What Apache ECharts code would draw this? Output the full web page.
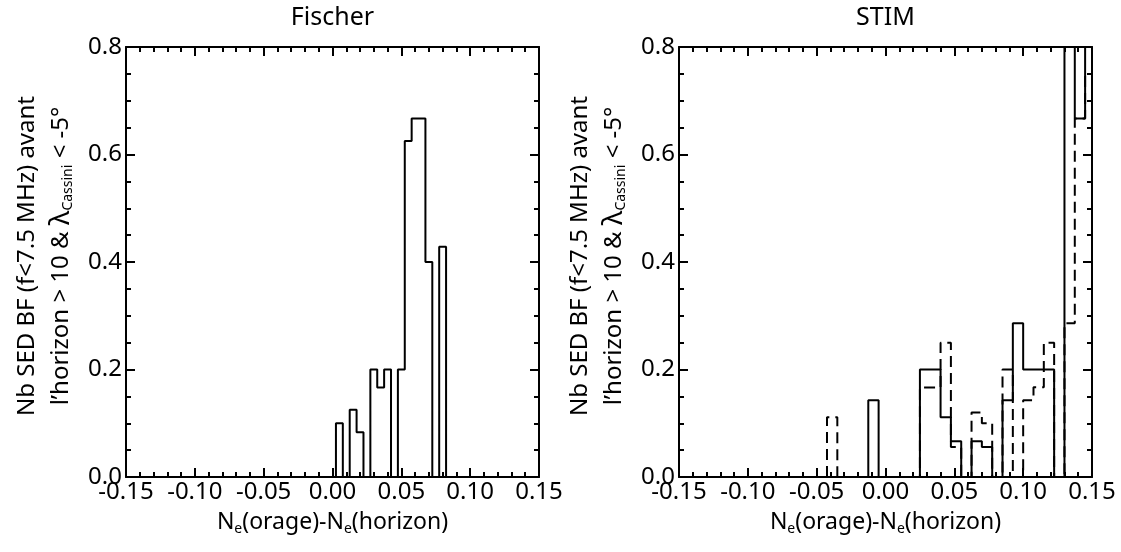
<!DOCTYPE html>
<html>
<head>
<meta charset="utf-8">
<script src="https://cdn.jsdelivr.net/npm/echarts@6/dist/echarts.min.js"></script>
<style>html,body{margin:0;padding:0;background:#fff}#c{width:1121px;height:552px}</style>
</head>
<body>
<div id="c"></div>
<script>
// ---- data ----
const xTickValues = [-0.15, -0.10, -0.05, 0.00, 0.05, 0.10, 0.15];
const yTickValues = [0.0, 0.2, 0.4, 0.6, 0.8];
const panelTitles = ['Fischer', 'STIM'];

// Fischer histogram (bin centres, width 0.005)
const fischerBinWidth = 0.005;
const fischerCenters = [0.005, 0.010, 0.015, 0.020, 0.025, 0.030, 0.035, 0.040, 0.045, 0.050, 0.055, 0.060, 0.065, 0.070, 0.075, 0.080];
const fischerValues  = [0.100, 0.000, 0.125, 0.0833, 0.000, 0.200, 0.1667, 0.200, 0.000, 0.200, 0.625, 0.667, 0.667, 0.400, 0.000, 0.4286];

// STIM histograms (bin left edges, width 0.0075)
const stimBinWidth = 0.0075;
const stimBinLeft = [-0.0425, -0.035, -0.0275, -0.02, -0.0125, -0.005, 0.0025, 0.01, 0.0175, 0.025, 0.0325, 0.04, 0.0475,
                     0.055, 0.0625, 0.07, 0.0775, 0.085, 0.0925, 0.1, 0.1075, 0.115, 0.1225, 0.13, 0.1375, 0.145];
const stimSolid  = [0, 0, 0, 0, 0.143, 0, 0, 0, 0, 0.2, 0.2, 0.111, 0.0667,
                    0, 0.0667, 0.056, 0, 0.143, 0.286, 0.2, 0.2, 0.2, 0, 1.0, 0.667, 1.0];
const stimDashed = [0.111, 0, 0, 0, 0, 0, 0, 0, 0, 0.1667, 0.1667, 0.25, 0.0556,
                    0, 0.12, 0.1, 0, 0.2, 0, 0.143, 0.167, 0.25, 0, 0.286, 0.667, 0.75];

// ---- helpers ----
function stepFromLefts(lefts, vals, w) {
  const d = [[lefts[0], 0]];
  for (let i = 0; i < lefts.length; i++) d.push([lefts[i], vals[i]]);
  d.push([lefts[lefts.length - 1] + w, 0]);
  return d;
}
function stepFromCenters(centers, vals, w) {
  return stepFromLefts(centers.map(c => c - w / 2), vals, w);
}

const FONT = 'Noto Sans';
const grids = [
  {left: 126, top: 47, width: 413, height: 430},
  {left: 679, top: 47, width: 413, height: 430}
];
const xLab = v => { if (Math.abs(v) < 1e-9) return '0.00'; return v.toFixed(2); };
const yLab = v => v.toFixed(1);

const xAxes = [], yAxes = [];
grids.forEach((g, i) => {
  const baseX = {
    gridIndex: i, type: 'value', min: xTickValues[0], max: xTickValues[xTickValues.length - 1], interval: 0.05,
    axisLine: {onZero: false, lineStyle: {color: '#000', width: 2}},
    axisTick: {inside: true, length: 9, lineStyle: {color: '#000', width: 2}},
    minorTick: {show: true, splitNumber: 5, length: 5, lineStyle: {color: '#000', width: 2}},
    splitLine: {show: false}
  };
  xAxes.push(Object.assign({}, baseX, {position: 'bottom',
    axisLabel: {formatter: xLab, color: '#000', fontSize: 24, fontFamily: FONT, margin: 3, showMinLabel: true, showMaxLabel: true}}));
  xAxes.push(Object.assign({}, baseX, {position: 'top', axisLabel: {show: false}}));
  const baseY = {
    gridIndex: i, type: 'value', min: yTickValues[0], max: yTickValues[yTickValues.length - 1], interval: 0.2,
    axisLine: {onZero: false, lineStyle: {color: '#000', width: 2}},
    axisTick: {inside: true, length: 9, lineStyle: {color: '#000', width: 2}},
    minorTick: {show: true, splitNumber: 4, length: 5, lineStyle: {color: '#000', width: 2}},
    splitLine: {show: false}
  };
  yAxes.push(Object.assign({}, baseY, {position: 'left',
    axisLabel: {formatter: yLab, color: '#000', fontSize: 24, fontFamily: FONT, margin: 4}}));
  yAxes.push(Object.assign({}, baseY, {position: 'right', axisLabel: {show: false}}));
});

const lineBase = {type: 'line', step: 'end', showSymbol: false, symbol: 'none', clip: true, animation: false};
const series = [
  Object.assign({}, lineBase, {xAxisIndex: 0, yAxisIndex: 0,
    data: stepFromCenters(fischerCenters, fischerValues, fischerBinWidth),
    lineStyle: {color: '#000', width: 2}}),
  Object.assign({}, lineBase, {xAxisIndex: 2, yAxisIndex: 2,
    data: stepFromLefts(stimBinLeft, stimDashed, stimBinWidth),
    lineStyle: {color: '#000', width: 2, type: [11, 6]}}),
  Object.assign({}, lineBase, {xAxisIndex: 2, yAxisIndex: 2,
    data: stepFromLefts(stimBinLeft, stimSolid, stimBinWidth),
    lineStyle: {color: '#000', width: 2}})
];

const rich = {
  t: {fontSize: 24, fontFamily: FONT, color: '#000', lineHeight: 34},
  l: {fontSize: 28, fontFamily: FONT, color: '#000', lineHeight: 34},
  s: {fontSize: 14, fontFamily: FONT, color: '#000', lineHeight: 34, padding: [14, 0, 0, 0]}
};
const xrich = {
  t: {fontSize: 23, fontFamily: FONT, color: '#000', lineHeight: 30},
  s: {fontSize: 14, fontFamily: FONT, color: '#000', lineHeight: 30, padding: [14, 0, 0, 0]}
};
const yName = '{t|Nb SED BF (f<7.5 MHz) avant}\n{t|l\u2019horizon > 10 & }{l|\u03bb}{s|Cassini}{t| < -5°}';
const xName = '{t|N}{s|e}{t|(orage)-N}{s|e}{t|(horizon)}';

const graphic = [];
grids.forEach((g, i) => {
  const cx = g.left + g.width / 2;
  graphic.push({type: 'text', x: cx, y: 18, style: {text: panelTitles[i], fontSize: 25, fontFamily: FONT, fill: '#000', align: 'center', verticalAlign: 'middle'}});
  graphic.push({type: 'text', x: cx, y: 522, style: {text: xName, rich: xrich, align: 'center', verticalAlign: 'middle'}});
  graphic.push({type: 'text', x: g.left - 82, y: 256, rotation: Math.PI / 2, style: {text: yName, rich: rich, align: 'center', verticalAlign: 'middle'}});
});

const chart = echarts.init(document.getElementById('c'), null, {renderer: 'canvas'});
chart.setOption({
  animation: false,
  grid: grids,
  xAxis: xAxes,
  yAxis: yAxes,
  series: series,
  graphic: graphic
});
</script>
</body>
</html>
